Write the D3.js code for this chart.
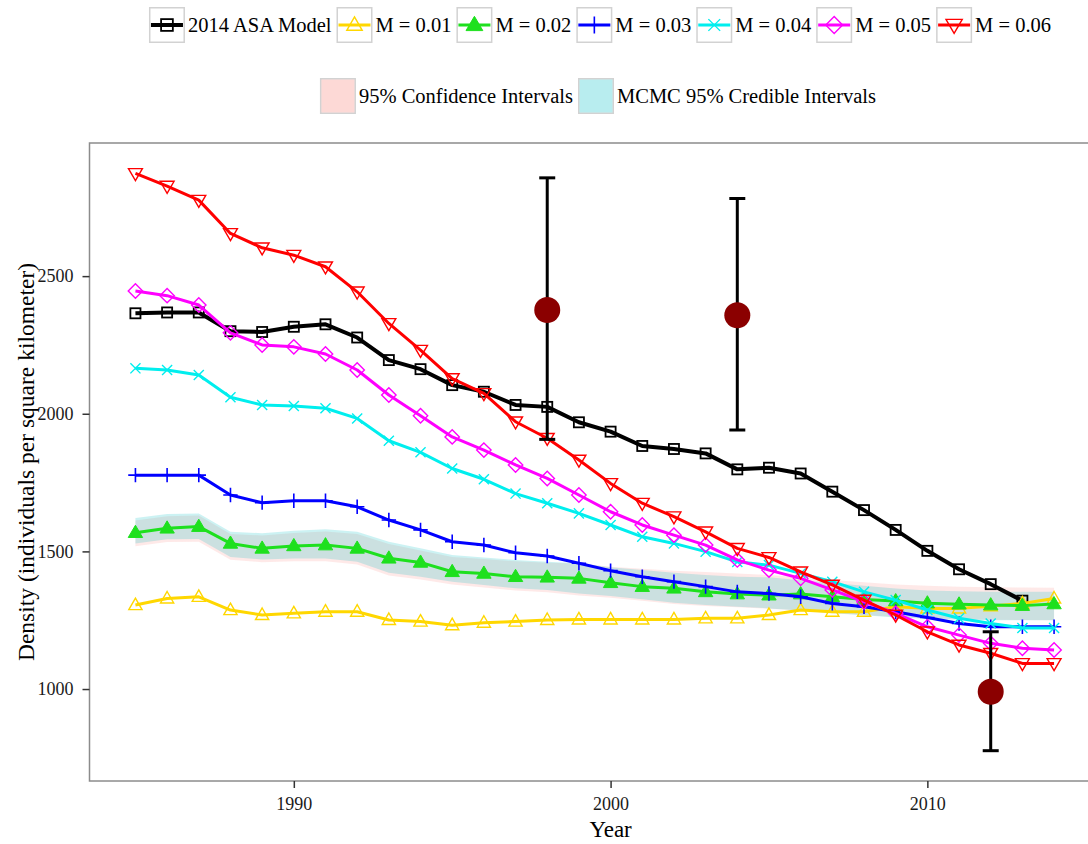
<!DOCTYPE html>
<html>
<head>
<meta charset="utf-8">
<script src="https://cdn.jsdelivr.net/npm/d3@7"></script>
<style>
  html, body { margin: 0; padding: 0; background: #fff; }
  svg text { font-family: "Liberation Serif", "Times New Roman", serif; }
</style>
</head>
<body>
<svg id="chart" width="1088" height="844"></svg>
<script>
// Years of the model runs
const years = [1985, 1986, 1987, 1988, 1989, 1990, 1991, 1992, 1993, 1994,
               1995, 1996, 1997, 1998, 1999, 2000, 2001, 2002, 2003, 2004,
               2005, 2006, 2007, 2008, 2009, 2010, 2011, 2012, 2013, 2014];

// Density estimates (individuals per square kilometer)
const asaModel = [2365, 2368, 2368, 2300, 2297, 2316, 2325, 2277, 2195, 2162,
                  2104, 2080, 2032, 2025, 1969, 1935, 1883, 1872, 1856, 1798,
                  1804, 1783, 1717, 1650, 1578, 1502, 1435, 1381, 1321];
const m001 = [1305, 1329, 1335, 1287, 1269, 1275, 1281, 1281, 1251, 1245,
              1232, 1241, 1245, 1251, 1253, 1253, 1253, 1253, 1257, 1257,
              1269, 1287, 1281, 1281, 1299, 1293, 1293, 1301, 1311, 1329];
const m002 = [1568, 1584, 1590, 1529, 1511, 1520, 1523, 1511, 1475, 1460,
              1426, 1420, 1408, 1406, 1402, 1386, 1372, 1366, 1353, 1345,
              1341, 1345, 1335, 1325, 1320, 1312, 1308, 1305, 1303, 1309];
const m003 = [1777, 1777, 1777, 1705, 1677, 1684, 1684, 1662, 1614, 1578,
              1535, 1523, 1495, 1483, 1457, 1430, 1408, 1390, 1372, 1353,
              1347, 1335, 1311, 1299, 1281, 1260, 1238, 1226, 1226, 1226];
const m004 = [2165, 2159, 2141, 2060, 2032, 2028, 2020, 1983, 1902, 1860,
              1801, 1762, 1710, 1675, 1638, 1596, 1553, 1529, 1499, 1462,
              1450, 1420, 1390, 1353, 1323, 1287, 1257, 1238, 1222, 1222];
const m005 = [2446, 2429, 2395, 2294, 2250, 2243, 2217, 2159, 2068, 1993,
              1916, 1868, 1814, 1765, 1705, 1644, 1596, 1559, 1523, 1469,
              1432, 1402, 1360, 1317, 1275, 1226, 1196, 1166, 1148, 1142];
const m006 = [2873, 2827, 2776, 2655, 2603, 2576, 2534, 2443, 2328, 2231,
              2128, 2074, 1971, 1911, 1832, 1747, 1675, 1626, 1571, 1511,
              1478, 1426, 1378, 1323, 1269, 1208, 1160, 1130, 1093, 1093];

// 95% confidence interval bounds
const confLow  = [1519, 1534, 1535, 1470, 1461, 1464, 1464, 1452, 1412, 1398,
                  1380, 1369, 1358, 1352, 1340, 1332, 1321, 1309, 1302, 1297,
                  1292, 1285, 1276, 1269, 1262, 1257, 1254, 1252, 1251, 1250];
const confHigh = [1612, 1628, 1630, 1563, 1558, 1567, 1572, 1563, 1527, 1503,
                  1480, 1472, 1464, 1459, 1456, 1444, 1437, 1430, 1425, 1420,
                  1414, 1405, 1396, 1388, 1380, 1375, 1372, 1370, 1369, 1368];
// MCMC 95% credible interval bounds
const credLow  = [1529, 1544, 1545, 1480, 1471, 1474, 1474, 1462, 1422, 1408,
                  1390, 1378, 1366, 1360, 1347, 1338, 1326, 1313, 1305, 1299,
                  1293, 1285, 1275, 1268, 1260, 1255, 1252, 1250, 1250, 1250];
const credHigh = [1621, 1636, 1638, 1571, 1566, 1575, 1580, 1571, 1535, 1511,
                  1487, 1478, 1469, 1462, 1457, 1442, 1432, 1422, 1414, 1408,
                  1406, 1395, 1385, 1375, 1365, 1358, 1355, 1353, 1353, 1353];

// Survey estimates with their 95% intervals
const surveyYears = [1998, 2004, 2012];
const surveyEst   = [2377, 2358, 990];
const surveyLow   = [1907, 1941, 776];
const surveyHigh  = [2857, 2782, 1208];

// Axis ticks
const xTicks = [1990, 2000, 2010];
const yTicks = [1000, 1500, 2000, 2500];

// Series labels and styling
const seriesNames  = ["2014 ASA Model", "M = 0.01", "M = 0.02", "M = 0.03", "M = 0.04", "M = 0.05", "M = 0.06"];
const seriesData   = [asaModel, m001, m002, m003, m004, m005, m006];
const seriesColors = ["#000000", "#FFD700", "#1EE01E", "#0000FF", "#00EEEE", "#FF00FF", "#FF0000"];
const seriesShapes = ["square", "triangle", "triangleFilled", "plus", "cross", "diamond", "triangleDown"];
const seriesWidths = [4, 3, 3, 3, 3, 3, 3];

const bandNames  = ["95% Confidence Intervals", "MCMC 95% Credible Intervals"];
const bandColors = ["#F8766D", "#00BFC4"];

const FONT = "'Liberation Serif', 'Times New Roman', serif";
const svg = d3.select("#chart");
const panel = { left: 89.5, right: 1100, top: 143, bottom: 781 };

const x = d3.scaleLinear().domain([1983.55, 2015.45]).range([panel.left, panel.right]);
const y = d3.scaleLinear().domain([665.9, 2983.6]).range([panel.bottom, panel.top]);

// Panel background
svg.append("rect")
  .attr("x", panel.left).attr("y", panel.top)
  .attr("width", panel.right - panel.left).attr("height", panel.bottom - panel.top)
  .attr("fill", "#fff");

// Interval bands
const bandData = [[confLow, confHigh], [credLow, credHigh]];
const bandOpacity = [0.16, 0.2];
bandData.forEach(([lo, hi], k) => {
  const area = d3.area()
    .x((d, i) => x(years[i]))
    .y0((d, i) => y(lo[i]))
    .y1((d, i) => y(hi[i]));
  svg.append("path")
    .datum(lo)
    .attr("d", area)
    .attr("fill", bandColors[k])
    .attr("fill-opacity", bandOpacity[k]);
});

// Marker symbol drawing
function drawMarker(g, shape, color, size) {
  const s = size;
  switch (shape) {
    case "square":
      g.append("rect").attr("x", -s * 0.42).attr("y", -s * 0.42)
        .attr("width", s * 0.84).attr("height", s * 0.84)
        .attr("fill", "none").attr("stroke", color).attr("stroke-width", 1.8);
      break;
    case "triangle":
      g.append("path").attr("d", `M0,${-s * 0.58}L${s * 0.55},${s * 0.38}L${-s * 0.55},${s * 0.38}Z`)
        .attr("fill", "none").attr("stroke", color).attr("stroke-width", 1.4);
      break;
    case "triangleFilled":
      g.append("path").attr("d", `M0,${-s * 0.62}L${s * 0.6},${s * 0.4}L${-s * 0.6},${s * 0.4}Z`)
        .attr("fill", color).attr("stroke", color).attr("stroke-width", 1);
      break;
    case "triangleDown":
      g.append("path").attr("d", `M0,${s * 0.6}L${s * 0.58},${-s * 0.4}L${-s * 0.58},${-s * 0.4}Z`)
        .attr("fill", "none").attr("stroke", color).attr("stroke-width", 1.4);
      break;
    case "plus":
      g.append("path").attr("d", `M${-s * 0.6},0H${s * 0.6}M0,${-s * 0.6}V${s * 0.6}`)
        .attr("stroke", color).attr("stroke-width", 1.6).attr("fill", "none");
      break;
    case "cross":
      g.append("path").attr("d", `M${-s * 0.42},${-s * 0.42}L${s * 0.42},${s * 0.42}M${-s * 0.42},${s * 0.42}L${s * 0.42},${-s * 0.42}`)
        .attr("stroke", color).attr("stroke-width", 1.4).attr("fill", "none");
      break;
    case "diamond":
      g.append("path").attr("d", `M0,${-s * 0.6}L${s * 0.6},0L0,${s * 0.6}L${-s * 0.6},0Z`)
        .attr("fill", "none").attr("stroke", color).attr("stroke-width", 1.4);
      break;
  }
}

// Model series: lines and markers
seriesData.forEach((vals, k) => {
  const line = d3.line()
    .x((d, i) => x(years[i]))
    .y(d => y(d));
  const g = svg.append("g");
  g.append("path")
    .datum(vals)
    .attr("d", line)
    .attr("fill", "none")
    .attr("stroke", seriesColors[k])
    .attr("stroke-width", seriesWidths[k])
    .attr("stroke-linejoin", "round");
  vals.forEach((v, i) => {
    const m = g.append("g").attr("transform", `translate(${x(years[i])},${y(v)})`);
    drawMarker(m, seriesShapes[k], seriesColors[k], 12);
  });
});

// Survey estimates with error bars
const sg = svg.append("g");
surveyYears.forEach((yr, i) => {
  const cx = x(yr);
  sg.append("line").attr("x1", cx).attr("x2", cx)
    .attr("y1", y(surveyLow[i])).attr("y2", y(surveyHigh[i]))
    .attr("stroke", "#000").attr("stroke-width", 3);
  [surveyLow[i], surveyHigh[i]].forEach(v => {
    sg.append("line").attr("x1", cx - 8).attr("x2", cx + 8)
      .attr("y1", y(v)).attr("y2", y(v))
      .attr("stroke", "#000").attr("stroke-width", 3);
  });
  sg.append("circle").attr("cx", cx).attr("cy", y(surveyEst[i]))
    .attr("r", 13).attr("fill", "#8B0000");
});

// Panel border
svg.append("rect")
  .attr("x", panel.left).attr("y", panel.top)
  .attr("width", panel.right - panel.left).attr("height", panel.bottom - panel.top)
  .attr("fill", "none").attr("stroke", "#8c8c8c").attr("stroke-width", 1.5);

// Axes
const xAxis = d3.axisBottom(x).tickValues(xTicks).tickFormat(d3.format("d")).tickSize(7).tickPadding(9);
const yAxis = d3.axisLeft(y).tickValues(yTicks).tickFormat(d3.format("d")).tickSize(7).tickPadding(9);

const gx = svg.append("g").attr("transform", `translate(0,${panel.bottom})`).call(xAxis);
const gy = svg.append("g").attr("transform", `translate(${panel.left},0)`).call(yAxis);
[gx, gy].forEach(g => {
  g.attr("font-family", null).attr("font-size", null);
  g.select(".domain").remove();
  g.selectAll(".tick line").attr("stroke", "#333").attr("stroke-width", 1.5);
  g.selectAll(".tick text")
    .attr("fill", "#1a1a1a")
    .style("font-family", FONT)
    .style("font-size", "18px");
});

// Axis titles
svg.append("text")
  .attr("x", x(2000)).attr("y", 837)
  .attr("text-anchor", "middle")
  .attr("fill", "#000")
  .style("font-family", FONT)
  .style("font-size", "23px")
  .text("Year");
svg.append("text")
  .attr("transform", `translate(34,${(panel.top + panel.bottom) / 2}) rotate(-90)`)
  .attr("text-anchor", "middle")
  .attr("fill", "#000")
  .style("font-family", FONT)
  .style("font-size", "23.5px")
  .text("Density (individuals per square kilometer)");

// Legends
const keySize = 36, keyGap = 3, itemGap = 5, fontSize = 20.5;
function legendRow(items, cy, centerX) {
  const g = svg.append("g");
  const widths = items.map(it => {
    const t = g.append("text").style("font-family", FONT).style("font-size", fontSize + "px").text(it.label);
    const w = t.node().getComputedTextLength();
    t.remove();
    return w;
  });
  const total = items.reduce((s, it, i) => s + keySize + keyGap + widths[i], 0) + itemGap * (items.length - 1);
  let cx = centerX - total / 2;
  items.forEach((it, i) => {
    const kg = g.append("g").attr("transform", `translate(${cx},${cy - keySize / 2})`);
    kg.append("rect").attr("x", 0.75).attr("y", 0.75)
      .attr("width", keySize - 1.5).attr("height", keySize - 1.5)
      .attr("fill", "#fff").attr("stroke", "#d2d2d2").attr("stroke-width", 1.5);
    it.draw(kg);
    g.append("text")
      .attr("x", cx + keySize + keyGap)
      .attr("y", cy + fontSize * 0.33)
      .attr("fill", "#000")
      .style("font-family", FONT)
      .style("font-size", fontSize + "px")
      .text(it.label);
    cx += keySize + keyGap + widths[i] + itemGap;
  });
}

legendRow(seriesNames.map((name, k) => ({
  label: name,
  draw: kg => {
    kg.append("line").attr("x1", 2).attr("x2", keySize - 2)
      .attr("y1", keySize / 2).attr("y2", keySize / 2)
      .attr("stroke", seriesColors[k]).attr("stroke-width", seriesWidths[k]);
    const m = kg.append("g").attr("transform", `translate(${keySize / 2},${keySize / 2})`);
    drawMarker(m, seriesShapes[k], seriesColors[k], 14);
  }
})), 25, 600);

legendRow(bandNames.map((name, k) => ({
  label: name,
  draw: kg => {
    kg.append("rect").attr("x", 1.5).attr("y", 1.5)
      .attr("width", keySize - 3).attr("height", keySize - 3)
      .attr("fill", bandColors[k]).attr("fill-opacity", 0.28);
  }
})), 96, 598);
</script>
</body>
</html>
